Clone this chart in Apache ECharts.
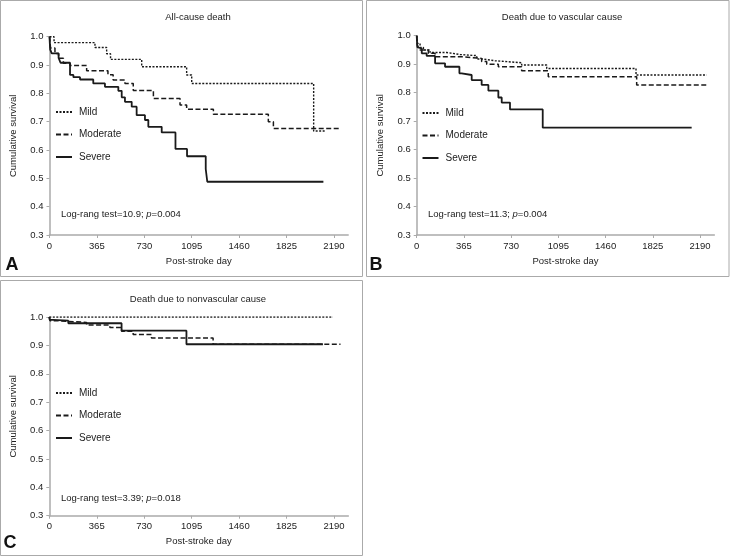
<!DOCTYPE html>
<html>
<head>
<meta charset="utf-8">
<script src="https://cdn.jsdelivr.net/npm/echarts@6/dist/echarts.min.js"></script>
<style>
html,body{margin:0;padding:0;background:#fff;}
#chart{width:730px;height:558px;}
</style>
</head>
<body>
<div id="chart"></div>
<script>
// ---- tick labels / categories ----
const xTicks = [0, 365, 730, 1095, 1460, 1825, 2190];
const groups = ['Mild', 'Moderate', 'Severe'];
const panelTitles = ['All-cause death', 'Death due to vascular cause', 'Death due to nonvascular cause'];
const panelLetters = ['A', 'B', 'C'];
const logRankStat = ['10.9', '11.3', '3.39'];
const logRankP = ['0.004', '0.004', '0.018'];

// ---- Panel A: all-cause death ----
const aMildT = [0, 35, 350, 440, 470, 710, 1056, 1095, 2034, 2121];
const aMildS = [1, 0.979, 0.962, 0.94, 0.92, 0.894, 0.865, 0.835, 0.667, 0.667];
const aModT = [0, 8, 42, 70, 107, 158, 286, 450, 490, 581, 645, 800, 1005, 1056, 1262, 1685, 1724, 2237];
const aModS = [1, 0.96, 0.941, 0.924, 0.906, 0.898, 0.88, 0.866, 0.847, 0.835, 0.81, 0.782, 0.759, 0.744, 0.726, 0.70, 0.676, 0.676];
const aSevT = [0, 5, 17, 70, 85, 158, 184, 235, 337, 427, 530, 556, 581, 633, 671, 735, 761, 864, 970, 1059, 1203, 1215, 2109];
const aSevS = [1, 0.955, 0.941, 0.925, 0.908, 0.865, 0.857, 0.849, 0.835, 0.823, 0.809, 0.786, 0.77, 0.753, 0.723, 0.706, 0.682, 0.662, 0.604, 0.578, 0.533, 0.488, 0.488];

// ---- Panel B: vascular cause ----
const bMildT = [0, 5, 26, 52, 103, 232, 335, 464, 515, 605, 811, 1005, 1695, 2241];
const bMildS = [1, 0.973, 0.959, 0.95, 0.941, 0.934, 0.93, 0.918, 0.912, 0.905, 0.897, 0.885, 0.862, 0.862];
const bModT = [0, 5, 20, 90, 142, 361, 502, 541, 631, 811, 1017, 1700, 2254];
const bModS = [1, 0.967, 0.95, 0.938, 0.926, 0.92, 0.909, 0.9, 0.891, 0.877, 0.856, 0.827, 0.827];
const bSevT = [0, 5, 13, 39, 77, 142, 219, 330, 348, 425, 502, 554, 631, 657, 721, 974, 2125];
const bSevS = [1, 0.96, 0.955, 0.938, 0.929, 0.903, 0.891, 0.868, 0.862, 0.844, 0.827, 0.807, 0.783, 0.765, 0.741, 0.677, 0.677];

// ---- Panel C: nonvascular cause ----
const cMildT = [0, 2182];
const cMildS = [1, 1];
const cModT = [0, 5, 56, 287, 466, 556, 645, 786, 1260, 2240];
const cModS = [1, 0.987, 0.981, 0.972, 0.963, 0.95, 0.938, 0.926, 0.904, 0.904];
const cSevT = [0, 3, 30, 146, 556, 1055, 2105];
const cSevS = [1, 0.99, 0.987, 0.978, 0.952, 0.904, 0.904];

function zip(t, s) { return t.map((v, i) => [v, s[i]]); }

const panelSeries = [
  [zip(aMildT, aMildS), zip(aModT, aModS), zip(aSevT, aSevS)],
  [zip(bMildT, bMildS), zip(bModT, bModS), zip(bSevT, bSevS)],
  [zip(cMildT, cMildS), zip(cModT, cModS), zip(cSevT, cSevS)]
];

const FONT = 'Liberation Sans';
const TXT = '#222';
const AXC = '#aaa';

const grids = [
  { left: 49.5, top: 36.7, width: 298.7, height: 198.3 },
  { left: 416.7, top: 35.7, width: 297.6, height: 199.3 },
  { left: 49.3, top: 317, width: 299, height: 198.7 }
];

const lineStyles = [
  { color: '#1a1a1a', width: 1.4, type: [2, 1.5] },
  { color: '#1a1a1a', width: 1.5, type: [5, 2.5] },
  { color: '#1a1a1a', width: 1.8, type: 'solid' }
];

const xAxes = grids.map((g, i) => ({
  type: 'value', gridIndex: i, min: 0, max: 2300,
  name: 'Post-stroke day', nameLocation: 'middle', nameGap: 21,
  nameTextStyle: { fontFamily: FONT, fontSize: 9.5, color: TXT },
  axisLine: { lineStyle: { color: AXC, width: 1.5 } },
  axisTick: { show: true, length: 3, customValues: xTicks, lineStyle: { color: AXC } },
  axisLabel: { customValues: xTicks, fontFamily: FONT, fontSize: 9.5, color: TXT, margin: 6, formatter: v => String(v) },
  splitLine: { show: false }
}));

const yAxes = grids.map((g, i) => ({
  type: 'value', gridIndex: i, min: 0.3, max: 1.0, interval: 0.1,
  name: 'Cumulative survival', nameLocation: 'middle', nameGap: 31,
  nameTextStyle: { fontFamily: FONT, fontSize: 9.5, color: TXT },
  axisLine: { show: true, lineStyle: { color: AXC, width: 1.5 } },
  axisTick: { show: true, length: 3, lineStyle: { color: AXC } },
  axisLabel: { fontFamily: FONT, fontSize: 9.5, color: TXT, margin: 6, formatter: v => v.toFixed(1) },
  splitLine: { show: false }
}));

const series = [];
panelSeries.forEach((grp, p) => {
  grp.forEach((data, k) => {
    series.push({
      type: 'line', name: groups[k], xAxisIndex: p, yAxisIndex: p,
      data: data, step: 'end', symbol: 'none', showSymbol: false,
      lineStyle: lineStyles[k], itemStyle: { color: '#1a1a1a' },
      animation: false, silent: true
    });
  });
});

const legendPos = [
  { left: 55, top: 107 },
  { left: 421.5, top: 108 },
  { left: 55, top: 388 }
];
const legends = legendPos.map(pos => ({
  data: groups, orient: 'vertical', left: pos.left, top: pos.top,
  itemWidth: 16, itemHeight: 10, itemGap: 12.5, padding: 0,
  selectedMode: false,
  itemStyle: { opacity: 0 },
  textStyle: { fontFamily: FONT, fontSize: 10, color: TXT, padding: [0, 0, 0, 2] }
}));

const boxes = [
  [0.5, 0.5, 362, 276],
  [366.5, 0.5, 362.5, 276],
  [0.5, 280.5, 362, 275]
];
const titlePos = [[198, 17], [562, 17], [198, 299]];
const letterPos = [[12, 265], [376, 265], [10, 543]];
const logPos = [[61, 214], [428, 214], [61, 498]];

const graphics = [];
boxes.forEach(b => graphics.push({
  type: 'rect', shape: { x: b[0], y: b[1], width: b[2], height: b[3] },
  style: { fill: 'none', stroke: '#aaa', lineWidth: 1 }, silent: true
}));
panelTitles.forEach((t, i) => graphics.push({
  type: 'text', x: titlePos[i][0], y: titlePos[i][1],
  style: { text: t, fill: TXT, font: '9.5px "' + FONT + '"', align: 'center', verticalAlign: 'middle' }
}));
panelLetters.forEach((t, i) => graphics.push({
  type: 'text', x: letterPos[i][0], y: letterPos[i][1],
  style: { text: t, fill: '#111', font: 'bold 18px "' + FONT + '"', align: 'center', verticalAlign: 'middle' }
}));
logRankStat.forEach((s, i) => graphics.push({
  type: 'text', x: logPos[i][0], y: logPos[i][1],
  style: {
    text: '{n|Log-rang test=' + s + '; }{i|p}{n|=' + logRankP[i] + '}',
    align: 'left', verticalAlign: 'middle',
    rich: {
      n: { fontFamily: FONT, fontSize: 9.5, fill: TXT },
      i: { fontFamily: FONT, fontSize: 9.5, fill: TXT, fontStyle: 'italic' }
    }
  }
}));

const chart = echarts.init(document.getElementById('chart'), null, { renderer: 'canvas' });
chart.setOption({
  animation: false,
  backgroundColor: '#fff',
  grid: grids,
  xAxis: xAxes,
  yAxis: yAxes,
  legend: legends,
  series: series,
  graphic: graphics
});
</script>
</body>
</html>
